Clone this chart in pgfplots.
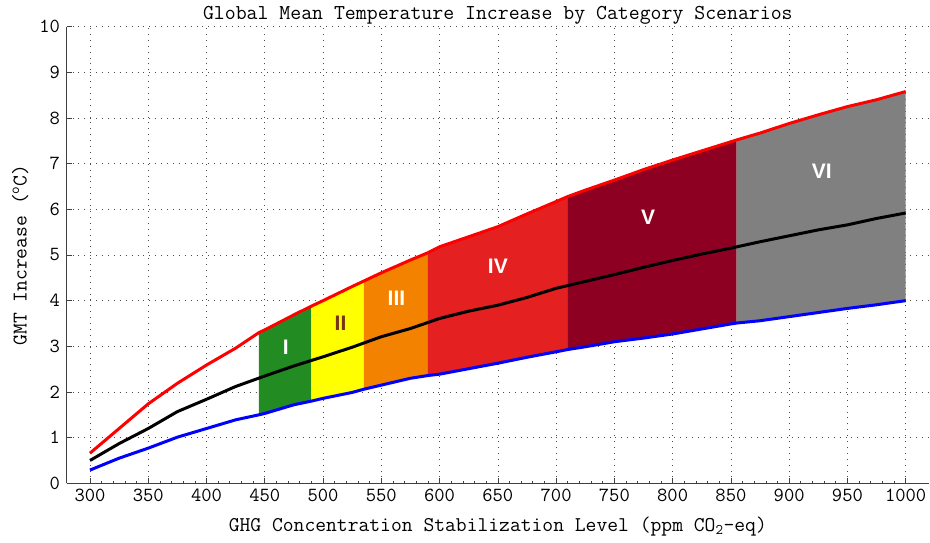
\documentclass[border=0pt]{standalone}
\usepackage{pgfplots}
\pgfplotsset{compat=1.18}
\usepgfplotslibrary{fillbetween}
\usepackage{fontspec}
\newfontfamily\labfont{Liberation Sans}
\definecolor{catI}{RGB}{34,139,34}
\definecolor{catII}{RGB}{255,255,0}
\definecolor{catIII}{RGB}{242,130,0}
\definecolor{catIV}{RGB}{228,32,32}
\definecolor{catV}{RGB}{142,0,34}
\definecolor{catVI}{RGB}{128,128,128}
\definecolor{labII}{RGB}{120,50,20}
\begin{document}
\begin{tikzpicture}
\begin{axis}[
  at={(0pt,0pt)}, anchor=south west,
  scale only axis, width=862.3pt, height=456.6pt,
  xmin=280, xmax=1020, ymin=0, ymax=10,
  xtick={300,350,...,1000}, minor x tick num=4,
  ytick={0,1,...,10},
  axis x line*=bottom, axis y line*=left,
  axis line style={black!75, line width=0.9pt},
  tick align=inside, major tick length=5pt, minor tick length=2.5pt,
  tick style={black!75, line width=0.7pt},
  grid=major, major grid style={black!70, line width=0.7pt, dash pattern=on 0.9pt off 5pt},
  /pgf/number format/assume math mode=true,
  /pgf/number format/1000 sep={},
  ticklabel style={font=\ttfamily\fontsize{20}{22}\selectfont},
  xticklabel style={anchor=base, yshift=-18.7pt, inner sep=0pt},
  yticklabel style={anchor=east, xshift=-6.5pt, inner sep=0pt},
  title={Global Mean Temperature Increase by Category Scenarios},
  title style={font=\ttfamily\fontsize{21.2}{23}\selectfont, at={(0.5,1.0016)}, anchor=base, inner sep=0pt},
  xlabel={GHG Concentration Stabilization Level (ppm CO$_{\mathtt{2}}$-eq)},
  xlabel style={font=\ttfamily\fontsize{21}{23}\selectfont, at={(0.5,-0.1045)}, anchor=base, inner sep=0pt},
  ylabel={GMT Increase (\textsuperscript{o}C)},
  ylabel style={font=\ttfamily\fontsize{21}{23}\selectfont, at={(-0.0464,0.5)}, anchor=base, inner sep=0pt},
  clip=false,
]
\addplot[name path=red, red, line width=3pt, line join=round] coordinates {
(300,0.66) (325,1.20) (350,1.74) (375,2.19) (400,2.59) (425,2.96) (445,3.30) (450,3.36) (475,3.69) (490,3.88) (500,4.00) (525,4.31) (535,4.43) (550,4.61) (575,4.89) (590,5.05) (600,5.18) (625,5.40) (650,5.62) (675,5.90) (700,6.17) (710,6.28) (725,6.42) (750,6.64) (775,6.87) (800,7.08) (825,7.28) (850,7.48) (855,7.52) (875,7.67) (900,7.88) (925,8.07) (950,8.25) (975,8.40) (1000,8.58)
};
\addplot[name path=blue, blue, line width=3pt, line join=round] coordinates {
(300,0.29) (325,0.55) (350,0.77) (375,1.01) (400,1.20) (425,1.39) (445,1.50) (450,1.53) (475,1.72) (490,1.80) (500,1.86) (525,1.99) (535,2.06) (550,2.15) (575,2.30) (590,2.36) (600,2.39) (625,2.51) (650,2.63) (675,2.76) (700,2.88) (710,2.93) (725,2.99) (750,3.10) (775,3.18) (800,3.27) (825,3.38) (850,3.49) (855,3.51) (875,3.56) (900,3.65) (925,3.74) (950,3.83) (975,3.91) (1000,4.00)
};
\addplot[catI] fill between[of=red and blue, soft clip={domain=445:490}];
\addplot[catII] fill between[of=red and blue, soft clip={domain=490:535}];
\addplot[catIII] fill between[of=red and blue, soft clip={domain=535:590}];
\addplot[catIV] fill between[of=red and blue, soft clip={domain=590:710}];
\addplot[catV] fill between[of=red and blue, soft clip={domain=710:855}];
\addplot[catVI] fill between[of=red and blue, soft clip={domain=855:1000}];
\addplot[black, line width=3pt, line join=round] coordinates {
(300,0.50) (325,0.87) (350,1.20) (375,1.57) (400,1.84) (425,2.12) (450,2.35) (475,2.57) (500,2.77) (525,2.98) (550,3.21) (575,3.39) (600,3.61) (625,3.77) (650,3.90) (675,4.07) (700,4.27) (725,4.42) (750,4.57) (775,4.73) (800,4.88) (825,5.02) (850,5.15) (875,5.29) (900,5.42) (925,5.55) (950,5.66) (975,5.80) (1000,5.92)
};
\node[white, font=\labfont\bfseries\fontsize{21}{23}\selectfont] at (axis cs:468,2.98) {I};
\node[labII, font=\labfont\bfseries\fontsize{21}{23}\selectfont] at (axis cs:515,3.50) {II};
\node[white, font=\labfont\bfseries\fontsize{21}{23}\selectfont] at (axis cs:563,4.05) {III};
\node[white, font=\labfont\bfseries\fontsize{21}{23}\selectfont] at (axis cs:650,4.76) {IV};
\node[white, font=\labfont\bfseries\fontsize{21}{23}\selectfont] at (axis cs:779,5.83) {V};
\node[white, font=\labfont\bfseries\fontsize{21}{23}\selectfont] at (axis cs:928,6.84) {VI};
\end{axis}
\pgfresetboundingbox
\useasboundingbox (-66.7pt,-59.7pt) rectangle (863.3pt,483.3pt);
\end{tikzpicture}
\end{document}
